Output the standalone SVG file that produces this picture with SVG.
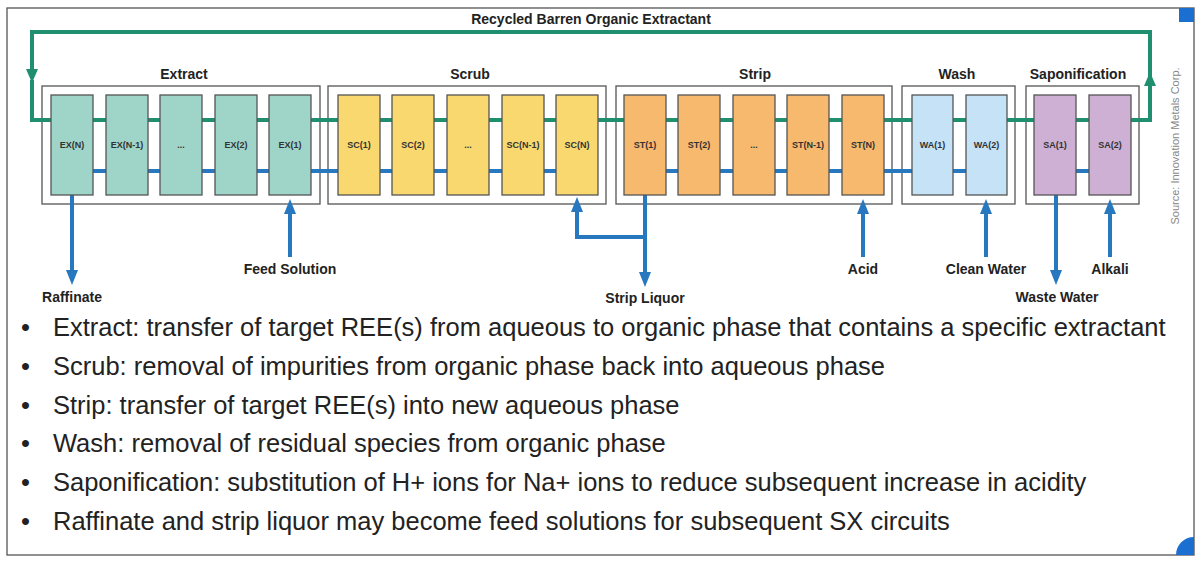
<svg xmlns="http://www.w3.org/2000/svg" width="1200" height="564" viewBox="0 0 1200 564">
<style>
  .bg{fill:#ffffff}
  .frame{fill:none;stroke:#555;stroke-width:1.3}
  .grp{fill:none;stroke:#555;stroke-width:1.3}
  .stage rect{stroke:#555;stroke-width:1.3}
  .ex{fill:#9ed5c8}.sc{fill:#f9d86f}.st{fill:#f7b96d}.wa{fill:#c5e2f7}.sa{fill:#cdb0d4}
  .lbl{font-family:"Liberation Sans",Arial,sans-serif;font-weight:bold;fill:#333;font-size:9px;text-anchor:middle}
  .gl{font-family:"Liberation Sans",Arial,sans-serif;font-weight:bold;fill:#222;font-size:14px;text-anchor:middle}
  .io{font-family:"Liberation Sans",Arial,sans-serif;font-weight:bold;fill:#222;font-size:14px;text-anchor:middle}
  .org{fill:none;stroke:#1f8f70;stroke-width:4}
  .aq{fill:none;stroke:#2878c0;stroke-width:4}
  .bul{font-family:"Liberation Sans",Arial,sans-serif;fill:#222;font-size:25.5px}
  .src{font-family:"Liberation Sans",Arial,sans-serif;fill:#888;font-size:11px;text-anchor:middle}
</style>
<defs>
  <marker id="ag" viewBox="0 0 14 12" refX="3" refY="6" markerWidth="14" markerHeight="12" markerUnits="userSpaceOnUse" orient="auto">
    <path d="M0,0 L14,6 L0,12 z" fill="#1f8f70"/>
  </marker>
  <marker id="ab" viewBox="0 0 15 12" refX="4" refY="6" markerWidth="15" markerHeight="12" markerUnits="userSpaceOnUse" orient="auto">
    <path d="M0,0 L15,6 L0,12 z" fill="#2878c0"/>
  </marker>
</defs>
<rect class="bg" x="0" y="0" width="1200" height="564"/>
<rect class="frame" x="7" y="8" width="1187" height="547"/>
<rect x="1179" y="8" width="15" height="14" fill="#1a6fd0"/>
<path d="M1176,555 A18,18 0 0 1 1194,537 L1194,555 Z" fill="#1a6fd0"/>

<g id="group-extract"><rect class="grp" x="42" y="86" width="278" height="118"/><text class="gl" x="184" y="79">Extract</text></g>
<g id="group-scrub"><rect class="grp" x="328" y="86" width="278" height="118"/><text class="gl" x="470" y="79">Scrub</text></g>
<g id="group-strip"><rect class="grp" x="616" y="86" width="276" height="118"/><text class="gl" x="755" y="79">Strip</text></g>
<g id="group-wash"><rect class="grp" x="902" y="86" width="113" height="118"/><text class="gl" x="957" y="79">Wash</text></g>
<g id="group-sapon"><rect class="grp" x="1026" y="86" width="113" height="118"/><text class="gl" x="1078" y="79">Saponification</text></g>

<text class="gl" x="591" y="24">Recycled Barren Organic Extractant</text>

<g id="connectors">
  <path class="org" d="M32,80 V120 H1150 V83" marker-end="url(#ag)"/>
  <path class="org" d="M1150,86 V32 H32 V72" marker-end="url(#ag)"/>
  <path class="aq" d="M72,171 H577"/>
  <path class="aq" d="M645,171 H986"/>
  <path class="aq" d="M1055,171 H1110"/>
  <path class="aq" d="M72,195 V274" marker-end="url(#ab)"/>
  <path class="aq" d="M290,257 V210" marker-end="url(#ab)"/>
  <path class="aq" d="M645,195 V276" marker-end="url(#ab)"/>
  <path class="aq" d="M645,237 H577 V208" marker-end="url(#ab)"/>
  <path class="aq" d="M863,257 V210" marker-end="url(#ab)"/>
  <path class="aq" d="M986,257 V210" marker-end="url(#ab)"/>
  <path class="aq" d="M1056,195 V274" marker-end="url(#ab)"/>
  <path class="aq" d="M1110,257 V210" marker-end="url(#ab)"/>
</g>

<g id="ex-n" class="stage"><rect class="ex" x="51" y="95" width="42" height="100"/><text class="lbl" x="72" y="148">EX(N)</text></g>
<g id="ex-n-1" class="stage"><rect class="ex" x="106" y="95" width="42" height="100"/><text class="lbl" x="127" y="148">EX(N-1)</text></g>
<g id="ex-dots" class="stage"><rect class="ex" x="160" y="95" width="42" height="100"/><text class="lbl" x="181" y="148">...</text></g>
<g id="ex-2" class="stage"><rect class="ex" x="215" y="95" width="42" height="100"/><text class="lbl" x="236" y="148">EX(2)</text></g>
<g id="ex-1" class="stage"><rect class="ex" x="269" y="95" width="42" height="100"/><text class="lbl" x="290" y="148">EX(1)</text></g>

<g id="sc-1" class="stage"><rect class="sc" x="338" y="95" width="42" height="100"/><text class="lbl" x="359" y="148">SC(1)</text></g>
<g id="sc-2" class="stage"><rect class="sc" x="392" y="95" width="42" height="100"/><text class="lbl" x="413" y="148">SC(2)</text></g>
<g id="sc-dots" class="stage"><rect class="sc" x="447" y="95" width="42" height="100"/><text class="lbl" x="468" y="148">...</text></g>
<g id="sc-n-1" class="stage"><rect class="sc" x="502" y="95" width="42" height="100"/><text class="lbl" x="523" y="148">SC(N-1)</text></g>
<g id="sc-n" class="stage"><rect class="sc" x="556" y="95" width="42" height="100"/><text class="lbl" x="577" y="148">SC(N)</text></g>

<g id="st-1" class="stage"><rect class="st" x="624" y="95" width="42" height="100"/><text class="lbl" x="645" y="148">ST(1)</text></g>
<g id="st-2" class="stage"><rect class="st" x="678" y="95" width="42" height="100"/><text class="lbl" x="699" y="148">ST(2)</text></g>
<g id="st-dots" class="stage"><rect class="st" x="733" y="95" width="42" height="100"/><text class="lbl" x="754" y="148">...</text></g>
<g id="st-n-1" class="stage"><rect class="st" x="787" y="95" width="42" height="100"/><text class="lbl" x="808" y="148">ST(N-1)</text></g>
<g id="st-n" class="stage"><rect class="st" x="842" y="95" width="42" height="100"/><text class="lbl" x="863" y="148">ST(N)</text></g>

<g id="wa-1" class="stage"><rect class="wa" x="912" y="95" width="41" height="100"/><text class="lbl" x="932.5" y="148">WA(1)</text></g>
<g id="wa-2" class="stage"><rect class="wa" x="966" y="95" width="41" height="100"/><text class="lbl" x="986.5" y="148">WA(2)</text></g>

<g id="sa-1" class="stage"><rect class="sa" x="1034" y="95" width="42" height="100"/><text class="lbl" x="1055" y="148">SA(1)</text></g>
<g id="sa-2" class="stage"><rect class="sa" x="1089" y="95" width="42" height="100"/><text class="lbl" x="1110" y="148">SA(2)</text></g>

<g id="io-labels">
  <text class="io" x="72" y="302">Raffinate</text>
  <text class="io" x="290" y="274">Feed Solution</text>
  <text class="io" x="645" y="303">Strip Liquor</text>
  <text class="io" x="863" y="274">Acid</text>
  <text class="io" x="986" y="274">Clean Water</text>
  <text class="io" x="1057" y="302">Waste Water</text>
  <text class="io" x="1110" y="274">Alkali</text>
</g>

<text class="src" transform="translate(1179,146) rotate(-90)">Source: Innovation Metals Corp.</text>

<g id="bullets" class="bul">
  <text x="21" y="336">•</text><text x="53" y="336">Extract: transfer of target REE(s) from aqueous to organic phase that contains a specific extractant</text>
  <text x="21" y="375">•</text><text x="53" y="375">Scrub: removal of impurities from organic phase back into aqueous phase</text>
  <text x="21" y="414">•</text><text x="53" y="414">Strip: transfer of target REE(s) into new aqueous phase</text>
  <text x="21" y="452">•</text><text x="53" y="452">Wash: removal of residual species from organic phase</text>
  <text x="21" y="491">•</text><text x="53" y="491">Saponification: substitution of H+ ions for Na+ ions to reduce subsequent increase in acidity</text>
  <text x="21" y="530">•</text><text x="53" y="530">Raffinate and strip liquor may become feed solutions for subsequent SX circuits</text>
</g>
</svg>
